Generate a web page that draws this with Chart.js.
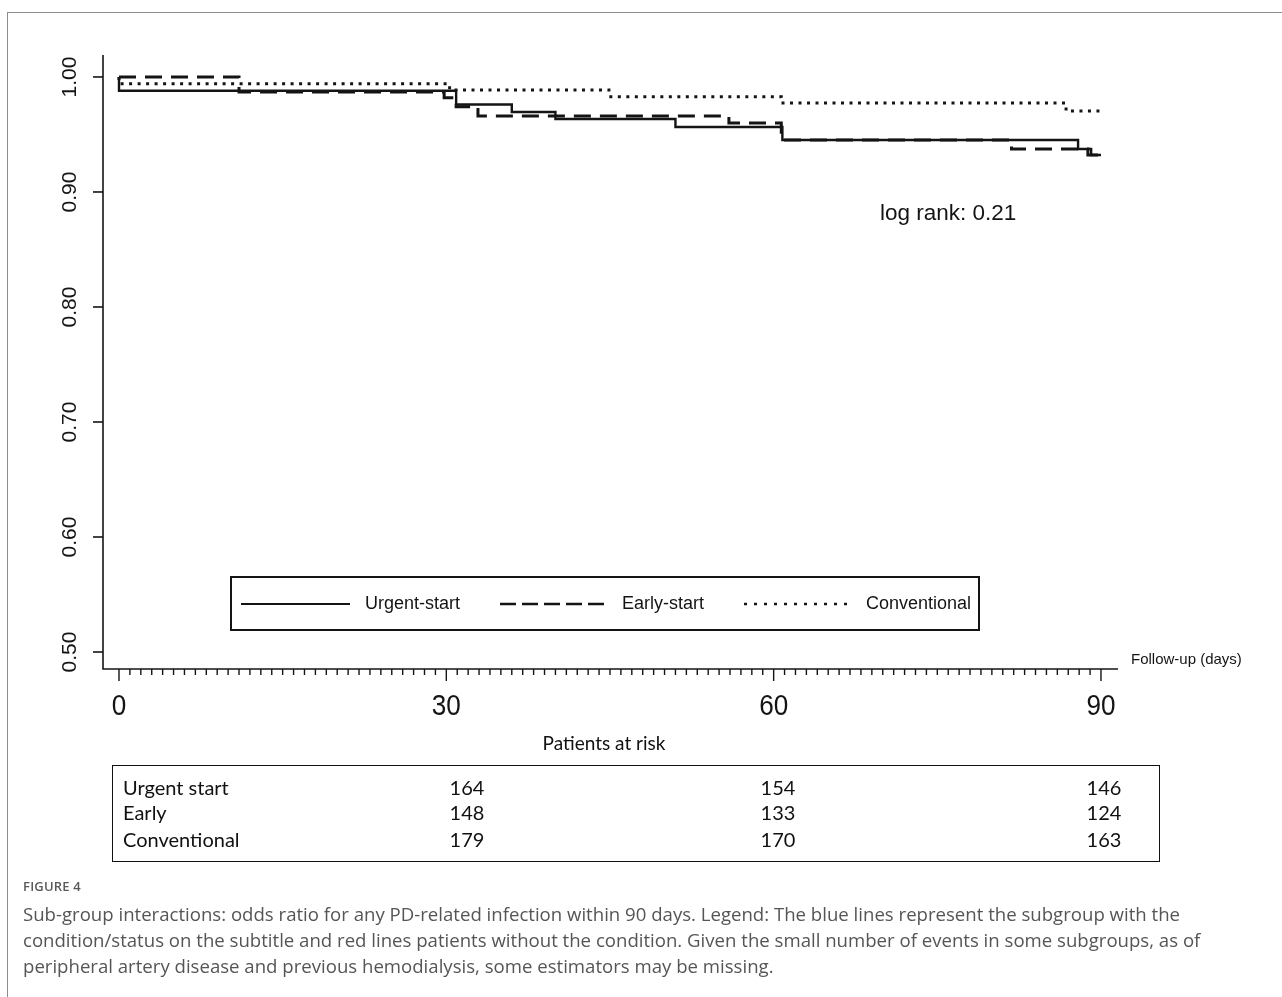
<!DOCTYPE html>
<html>
<head>
<meta charset="utf-8">
<title>Kaplan-Meier: PD-related infection-free survival</title>
<script src="https://cdn.jsdelivr.net/npm/chart.js@4.4.1/dist/chart.umd.min.js"></script>
<style>
  html, body { margin: 0; padding: 0; background: #fff; }
  #page { position: relative; width: 1282px; height: 997px; overflow: hidden; }
  #frame { position: absolute; left: 7px; top: 12px; right: -2px; bottom: -2px;
           border-left: 1px solid #8c8c8c; border-top: 1px solid #8c8c8c; }
  #km { position: absolute; left: 0; top: 0; }
  #risk-title { position: absolute; left: 0; width: 1208px; top: 731px; text-align: center;
                font: 19px Lato, "Open Sans", sans-serif; color: #111; }
  #risk { position: absolute; left: 112px; top: 765px; width: 1046px; height: 95px;
          border: 1.5px solid #111; }
  .rl { position: absolute; left: 10px; font: 20px Lato, "Open Sans", sans-serif; color: #111; line-height: 24px; }
  .rv { position: absolute; width: 80px; margin-left: -40px; text-align: center;
        font: 20px Lato, "Open Sans", sans-serif; color: #111; line-height: 24px; }
  #fig { position: absolute; left: 23px; top: 877px; font: 600 13px "Open Sans", sans-serif;
         color: #5a5a5a; letter-spacing: 0.2px; }
  #cap { position: absolute; left: 23px; top: 901px; font: 18.6px "Open Sans", sans-serif;
         color: #555; line-height: 26px; white-space: nowrap; }
</style>
</head>
<body>
<div id="page">
  <div id="frame"></div>
  <canvas id="km" width="1282" height="997"></canvas>
  <div id="risk-title"></div>
  <div id="risk"></div>
  <div id="fig">FIGURE 4</div>
  <div id="cap">Sub-group interactions: odds ratio for any PD-related infection within 90 days. Legend: The blue lines represent the subgroup with the<br>condition/status on the subtitle and red lines patients without the condition. Given the small number of events in some subgroups, as of<br>peripheral artery disease and previous hemodialysis, some estimators may be missing.</div>
</div>
<script>
// Kaplan-Meier step data: event days and survival after each step
const urgentDays = [0, 0, 30.9, 36.0, 40.0, 51.0, 60.8, 87.9, 89.1, 90];
const urgentSurv = [1.0, 0.988, 0.976, 0.9696, 0.9635, 0.9565, 0.9452, 0.9374, 0.9322, 0.9322];

const earlyDays = [0, 11.0, 29.8, 30.9, 32.9, 55.9, 60.7, 81.8, 88.8, 90];
const earlySurv = [1.0, 0.987, 0.982, 0.974, 0.966, 0.960, 0.9452, 0.9374, 0.9322, 0.9322];

const convDays = [0, 0, 30.3, 44.9, 60.7, 86.8, 90];
const convSurv = [1.0, 0.994, 0.9887, 0.9829, 0.9774, 0.9704, 0.9704];

const seriesNames = ['Urgent-start', 'Early-start', 'Conventional'];

// Axis ticks
const yTicks = [0.5, 0.6, 0.7, 0.8, 0.9, 1.0];
const yTickLabels = ['0.50', '0.60', '0.70', '0.80', '0.90', '1.00'];
const xMajorTicks = [0, 30, 60, 90];
const xMajorLabels = ['0', '30', '60', '90'];
const xAxisTitle = 'Follow-up (days)';
const logRankText = 'log rank: 0.21';

// Patients at risk table
const riskTitle = 'Patients at risk';
const riskGroups = ['Urgent start', 'Early', 'Conventional'];
const riskUrgent = [164, 154, 146];
const riskEarly = [148, 133, 124];
const riskConv = [179, 170, 163];

function pts(days, surv) { return days.map((d, i) => ({ x: d, y: surv[i] })); }

const INK = '#141414';
const FONT = '"Liberation Sans", Arial, sans-serif';

function squishText(ctx, s, x, y, sx, rot) {
  ctx.save();
  ctx.translate(x, y);
  if (rot) ctx.rotate(rot);
  ctx.scale(sx, 1);
  ctx.fillText(s, 0, 0);
  ctx.restore();
}

// R-style detached axes, annotation and boxed legend
const kmDecor = {
  id: 'kmDecor',
  afterDraw(chart) {
    const { ctx, chartArea: ca, scales: { x, y } } = chart;
    ctx.save();
    ctx.strokeStyle = INK;
    ctx.fillStyle = INK;
    ctx.lineWidth = 1.6;
    ctx.setLineDash([]);

    // axis lines
    ctx.beginPath();
    ctx.moveTo(ca.left, ca.top);
    ctx.lineTo(ca.left, ca.bottom);
    ctx.lineTo(ca.right, ca.bottom);
    ctx.stroke();

    // y ticks and rotated labels
    ctx.font = '21px ' + FONT;
    ctx.textAlign = 'center';
    ctx.textBaseline = 'middle';
    yTicks.forEach((v, i) => {
      const py = y.getPixelForValue(v);
      ctx.beginPath();
      ctx.moveTo(ca.left - 10, py);
      ctx.lineTo(ca.left, py);
      ctx.stroke();
      squishText(ctx, yTickLabels[i], ca.left - 33, py, 1, -Math.PI / 2);
    });

    // x ticks: one per day, longer at labelled days
    ctx.lineWidth = 1.4;
    for (let d = 0; d <= 90; d++) {
      const px = x.getPixelForValue(d);
      const len = xMajorTicks.includes(d) ? 12 : 6;
      ctx.beginPath();
      ctx.moveTo(px, ca.bottom);
      ctx.lineTo(px, ca.bottom + len);
      ctx.stroke();
    }
    ctx.font = '29px ' + FONT;
    ctx.textBaseline = 'alphabetic';
    xMajorTicks.forEach((d, i) => {
      squishText(ctx, xMajorLabels[i], x.getPixelForValue(d), ca.bottom + 46, 0.9, 0);
    });

    ctx.font = '15px ' + FONT;
    ctx.textAlign = 'left';
    ctx.textBaseline = 'middle';
    ctx.fillText(xAxisTitle, ca.right + 13, ca.bottom - 9);

    // log-rank annotation
    ctx.font = '22.5px ' + FONT;
    ctx.fillText(logRankText, 880, 214);

    // legend
    ctx.lineWidth = 2;
    ctx.strokeRect(231, 577, 748, 53);
    const lg = [
      { x0: 241, x1: 350, tx: 365, dash: [], w: 2 },
      { x0: 500, x1: 606, tx: 622, dash: [16, 6], w: 2.4 },
      { x0: 744, x1: 848, tx: 866, dash: [3, 7], w: 2.4 }
    ];
    ctx.font = '18px ' + FONT;
    lg.forEach((l, i) => {
      ctx.setLineDash(l.dash);
      ctx.lineWidth = l.w;
      ctx.beginPath();
      ctx.moveTo(l.x0, 604);
      ctx.lineTo(l.x1, 604);
      ctx.stroke();
      ctx.setLineDash([]);
      ctx.fillText(seriesNames[i], l.tx, 604);
    });
    ctx.restore();
  }
};

new Chart(document.getElementById('km'), {
  type: 'line',
  data: {
    datasets: [
      { label: seriesNames[0], data: pts(urgentDays, urgentSurv), stepped: 'before',
        borderColor: INK, borderWidth: 2.4, borderDash: [], pointRadius: 0, fill: false },
      { label: seriesNames[1], data: pts(earlyDays, earlySurv), stepped: 'before',
        borderColor: INK, borderWidth: 3, borderDash: [17, 9], pointRadius: 0, fill: false },
      { label: seriesNames[2], data: pts(convDays, convSurv), stepped: 'before',
        borderColor: INK, borderWidth: 3, borderDash: [3, 5.5], pointRadius: 0, fill: false }
    ]
  },
  options: {
    responsive: false,
    animation: false,
    devicePixelRatio: 1,
    layout: { padding: { left: 103, right: 164, top: 55, bottom: 328 } },
    plugins: { legend: { display: false }, tooltip: { enabled: false }, title: { display: false } },
    scales: {
      x: { type: 'linear', min: -1.466, max: 91.56, display: false },
      y: { type: 'linear', min: 0.48522, max: 1.0191, display: false }
    }
  },
  plugins: [kmDecor]
});

// risk table
document.getElementById('risk-title').textContent = riskTitle;
const riskBox = document.getElementById('risk');
const colX = [354, 665, 991];
const rowY = [9, 34, 61];
const riskCols = [riskUrgent, riskEarly, riskConv];
riskGroups.forEach((g, r) => {
  const lab = document.createElement('div');
  lab.className = 'rl';
  lab.style.top = rowY[r] + 'px';
  lab.textContent = g;
  riskBox.appendChild(lab);
  riskCols[r].forEach((v, c) => {
    const cell = document.createElement('div');
    cell.className = 'rv';
    cell.style.top = rowY[r] + 'px';
    cell.style.left = colX[c] + 'px';
    cell.textContent = v;
    riskBox.appendChild(cell);
  });
});
</script>
</body>
</html>
